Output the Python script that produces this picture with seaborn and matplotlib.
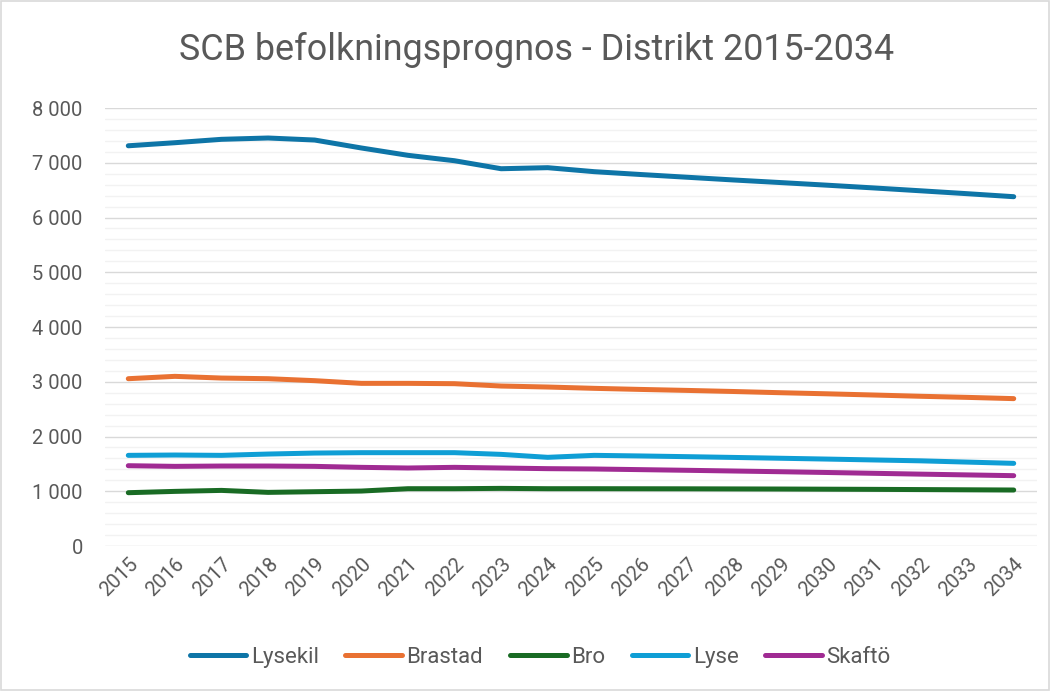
import numpy as np
import pandas as pd
import seaborn as sns
import matplotlib.pyplot as plt
from matplotlib.ticker import FuncFormatter, MultipleLocator
from matplotlib.patches import Rectangle

years = list(range(2015, 2035))

lysekil = [7310, 7366, 7428, 7452, 7415, 7270, 7136, 7037, 6891, 6910,
           6837, 6785, 6735, 6685, 6638, 6590, 6540, 6488, 6435, 6380]
brastad = [3056, 3099, 3068, 3056, 3020, 2971, 2971, 2965, 2922, 2904,
           2880, 2860, 2842, 2822, 2800, 2780, 2758, 2735, 2715, 2692]
bro = [974, 998, 1016, 980, 992, 1004, 1047, 1047, 1053, 1047,
       1047, 1046, 1045, 1043, 1041, 1038, 1035, 1031, 1027, 1023]
lyse = [1656, 1662, 1656, 1680, 1698, 1705, 1705, 1705, 1674, 1620,
        1656, 1645, 1632, 1618, 1603, 1588, 1572, 1556, 1533, 1510]
skafto = [1467, 1455, 1461, 1461, 1455, 1437, 1425, 1437, 1425, 1413,
          1407, 1395, 1383, 1370, 1357, 1343, 1328, 1313, 1299, 1285]

series = ['Lysekil', 'Brastad', 'Bro', 'Lyse', 'Skaftö']
colors = ['#0e75a7', '#e97132', '#196b24', '#0f9ed5', '#a02b93']

df = pd.DataFrame({'År': [str(y) for y in years] * 5,
                   'Invånare': lysekil + brastad + bro + lyse + skafto,
                   'Distrikt': np.repeat(series, len(years))})

sns.set_style('white')
plt.rcParams['font.family'] = ['Roboto', 'DejaVu Sans']
txt = '#595959'

fig = plt.figure(figsize=(10.51, 6.91), dpi=100)
ax = fig.add_axes([0.0999, 0.2098, 0.8868, 0.6339])

sns.lineplot(data=df, x='År', y='Invånare', hue='Distrikt', palette=colors,
             linewidth=3.6, ax=ax, legend=False, sort=False)
for line in ax.get_lines():
    line.set_solid_capstyle('round')
    line.set_solid_joinstyle('round')

ax.set_ylim(0, 8000)
ax.set_xlim(-0.5, len(years) - 0.5)
ax.yaxis.set_major_locator(MultipleLocator(1000))
ax.yaxis.set_minor_locator(MultipleLocator(200))
ax.yaxis.set_major_formatter(FuncFormatter(lambda v, p: f'{int(v):,}'.replace(',', ' ')))
ax.grid(which='major', axis='y', color='#d9d9d9', linewidth=1.0)
ax.grid(which='minor', axis='y', color='#f2f2f2', linewidth=1.0)
ax.set_axisbelow(True)
for s in ax.spines.values():
    s.set_visible(False)
ax.tick_params(axis='both', which='both', length=0, colors=txt, labelsize=14.5)
ax.tick_params(axis='y', pad=16)
ax.tick_params(axis='x', pad=6)
plt.setp(ax.get_xticklabels(), rotation=45, ha='right', rotation_mode='anchor')
ax.set_xlabel('')
ax.set_ylabel('')

fig.text(0.511, 0.927, 'SCB befolkningsprognos - Distrikt 2015-2034',
         ha='center', va='center', fontsize=25.8, color=txt)

handles = [plt.Line2D([], [], color=c, linewidth=3.6, solid_capstyle='round')
           for c in colors]
fig.legend(handles, series, loc='center', bbox_to_anchor=(0.514, 0.049), ncol=5,
           frameon=False, fontsize=16, handlelength=2.55, handletextpad=0.2,
           columnspacing=1.2, labelcolor=txt)

fig.add_artist(Rectangle((0.001, 0.001), 0.997, 0.997, transform=fig.transFigure,
                         fill=False, edgecolor='#d9d9d9', linewidth=1.2))

fig.savefig('out.png', dpi=100)
